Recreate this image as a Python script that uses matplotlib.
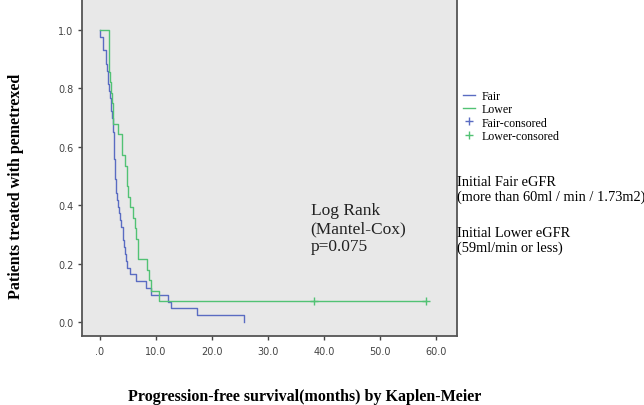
import numpy as np
import matplotlib
matplotlib.use("Agg")
import matplotlib.pyplot as plt
from matplotlib.lines import Line2D

# event times (months)
fair_events = [0.1, 0.6, 0.6,
               1.05, 1.15, 1.3, 1.4, 1.5, 1.65, 1.8, 1.9, 2.05, 2.2, 2.35,
               2.42, 2.48, 2.52, 2.56, 2.6, 2.64, 2.68,
               2.75, 2.82, 2.9, 2.97,
               3.2, 3.45, 3.65, 3.85,
               4.05, 4.2, 4.35, 4.5,
               4.7, 4.85,
               5.4, 6.5, 8.3, 9.2, 12.2, 12.7, 17.4, 25.8]
fair_censored = []

lower_events = [1.6, 1.6, 1.6, 1.7, 1.85, 1.95, 2.1, 2.25, 2.38,
                3.27, 3.87, 3.87, 4.46, 4.76, 4.76, 5.06, 5.36, 5.83,
                6.25, 6.5, 6.85, 6.85, 8.33, 8.81, 9.2, 10.5]
lower_censored = [38.2, 58.3]

x_ticks = [0, 10, 20, 30, 40, 50, 60]
x_labels = [".0", "10.0", "20.0", "30.0", "40.0", "50.0", "60.0"]
y_ticks = [0.0, 0.2, 0.4, 0.6, 0.8, 1.0]
y_labels = ["0.0", "0.2", "0.4", "0.6", "0.8", "1.0"]

BLUE = "#5a6cc2"
GREEN = "#52c274"
SERIF = ["Liberation Serif", "DejaVu Serif"]


def km_curve(events, censored):
    # product-limit estimate, returns step points and censor points
    times = sorted(set(events) | set(censored))
    n = len(events) + len(censored)
    s = 1.0
    xs, ys = [0.0], [1.0]
    cx, cy = [], []
    for t in times:
        d = events.count(t)
        c = censored.count(t)
        if d:
            s *= (n - d) / n
            xs.append(t)
            ys.append(s)
        if c:
            cx.append(t)
            cy.append(s)
        n -= d + c
    xs.append(max(times))
    ys.append(s)
    return np.array(xs), np.array(ys), cx, cy


fig = plt.figure(figsize=(6.44, 4.06), dpi=100)
ax = fig.add_axes([82 / 644, 1 - 337 / 406, 375 / 644, 337 / 406])
ax.set_facecolor("#e8e8e8")

fx, fy, fcx, fcy = km_curve(fair_events, fair_censored)
lx, ly, lcx, lcy = km_curve(lower_events, lower_censored)

ax.step(fx, fy, where="post", color=BLUE, lw=1.0)
ax.step(lx, ly, where="post", color=GREEN, lw=1.0)
ax.plot(lcx, lcy, ls="none", marker="+", color=GREEN, ms=6, mew=1.0)
ax.plot(fcx, fcy, ls="none", marker="+", color=BLUE, ms=6, mew=1.0)

ax.set_xlim(-3.2, 63.75)
ax.set_ylim(-0.048, 1.106)
ax.set_xticks(x_ticks)
ax.set_xticklabels(x_labels)
ax.set_yticks(y_ticks)
ax.set_yticklabels(y_labels)
ax.tick_params(labelsize=7, colors="#444444", length=3, width=1)
ax.tick_params(axis="y", pad=3)
ax.tick_params(axis="x", pad=4)
for side in ["left", "bottom", "right"]:
    ax.spines[side].set_color("#555555")
    ax.spines[side].set_linewidth(1.3)
ax.spines["top"].set_visible(False)

ax.text(37.6, 0.41, "Log Rank\n(Mantel-Cox)\np=0.075", family=SERIF,
        fontsize=12.5, va="top", ha="left", linespacing=1.15, color="#222222")

# legend outside the axes
handles = [
    Line2D([], [], color=BLUE, lw=1.0),
    Line2D([], [], color=GREEN, lw=1.0),
    Line2D([], [], color=BLUE, ls="none", marker="+", ms=6),
    Line2D([], [], color=GREEN, ls="none", marker="+", ms=6),
]
fig.legend(handles, ["Fair", "Lower", "Fair-consored", "Lower-consored"],
           loc="upper left", bbox_to_anchor=(458 / 644, 1 - 86 / 406),
           frameon=False, prop={"family": SERIF, "size": 8.6},
           handlelength=1.0, handletextpad=0.6, labelspacing=0.12,
           borderaxespad=0)

fig.text(457 / 644, 1 - 190 / 406, "Initial Fair eGFR\n(more than 60ml / min / 1.73m2)",
         family=SERIF, fontsize=10.4, va="center", ha="left", linespacing=1.1)
fig.text(457 / 644, 1 - 241 / 406, "Initial Lower eGFR\n(59ml/min or less)",
         family=SERIF, fontsize=10.4, va="center", ha="left", linespacing=1.1)

fig.text(16 / 644, 1 - 186 / 406, "Patients treated with pemetrexed", family=SERIF,
         fontsize=11.5, fontweight="bold", rotation=90, ha="center", va="center")
fig.text(305 / 644, 1 - 397 / 406, "Progression-free survival(months) by Kaplen-Meier",
         family=SERIF, fontsize=11.5, fontweight="bold", ha="center", va="center")

fig.savefig("out.png", dpi=100, facecolor="white")
